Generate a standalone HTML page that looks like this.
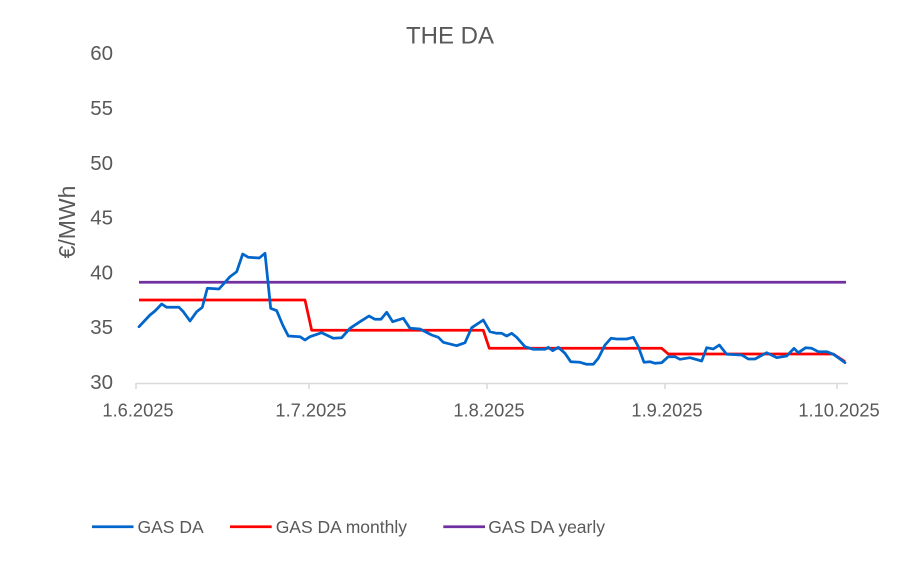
<!DOCTYPE html>
<html>
<head>
<meta charset="utf-8">
<style>
  html, body { margin: 0; padding: 0; background: #ffffff; }
  body { width: 900px; height: 573px; overflow: hidden; }
  svg { display: block; }
  text { font-family: "Liberation Sans", "DejaVu Sans", sans-serif; fill: #595959; }
</style>
</head>
<body>
<svg width="900" height="573" viewBox="0 0 900 573" xmlns="http://www.w3.org/2000/svg">
  <rect x="0" y="0" width="900" height="573" fill="#ffffff"/>

  <!-- Title -->
  <text x="450" y="43.5" font-size="24" text-anchor="middle">THE DA</text>

  <!-- Y axis title -->
  <text transform="translate(75,222) rotate(-90)" font-size="23" text-anchor="middle">€/MWh</text>

  <!-- Y tick labels -->
  <g font-size="20.5" text-anchor="end">
    <text x="113" y="60.2">60</text>
    <text x="113" y="115.2">55</text>
    <text x="113" y="169.9">50</text>
    <text x="113" y="224.7">45</text>
    <text x="113" y="279.4">40</text>
    <text x="113" y="334.2">35</text>
    <text x="113" y="389">30</text>
  </g>

  <!-- X axis -->
  <line x1="136" y1="383.5" x2="848" y2="383.5" stroke="#d9d9d9" stroke-width="1.5"/>
  <g stroke="#d9d9d9" stroke-width="1.5">
    <line x1="136" y1="383" x2="136" y2="389"/>
    <line x1="309" y1="383" x2="309" y2="389"/>
    <line x1="487" y1="383" x2="487" y2="389"/>
    <line x1="665" y1="383" x2="665" y2="389"/>
    <line x1="837" y1="383" x2="837" y2="389"/>
  </g>

  <!-- X tick labels -->
  <g font-size="18.3" text-anchor="middle">
    <text x="138" y="416.5">1.6.2025</text>
    <text x="311" y="416.5">1.7.2025</text>
    <text x="489" y="416.5">1.8.2025</text>
    <text x="667" y="416.5">1.9.2025</text>
    <text x="839" y="416.5">1.10.2025</text>
  </g>

  <!-- GAS DA yearly -->
  <line x1="139" y1="282.3" x2="846" y2="282.3" stroke="#7030a0" stroke-width="2.75"/>

  <!-- GAS DA monthly -->
  <polyline fill="none" stroke="#ff0000" stroke-width="2.75" stroke-linejoin="round"
    points="139,300 305,300 311.7,330.3 483.3,330.3 489.3,348.3 661.7,348.3 668.3,354 833.3,354 845,361.7"/>

  <!-- GAS DA -->
  <polyline fill="none" stroke="#0066cc" stroke-width="2.75" stroke-linejoin="round" stroke-linecap="round"
    points="139,326.7 150,315 155,311 161.7,304 166.7,307.3 179,307.3 183.3,311.7 190,321 196.7,311.7 202.3,307.3 207.3,288.3 219,289 230,276.7 236.7,271.7 242.7,254 248.3,257.3 259.3,258 265,253.3 270.7,308.3 276.7,310.7 282.7,325 288.3,336 300,336.7 305,340 310,336.7 321.7,332.7 333.3,338.3 341.7,337.7 350,328.3 360,321.7 369,316 375,319.3 381,319.3 386.7,312.3 392.7,321.7 403.3,318.3 410,328.3 420,329 431.7,335 438.3,337.3 443.3,342.3 456.7,345.7 465,342.7 471.7,327.7 483.3,320 490,331.7 496.7,333.3 501.7,333.3 506.7,336 511.7,333.3 516.7,337.3 525,346.7 533.3,349.3 545,349.3 548.3,347.3 552.7,350.7 558.3,347.3 565,353.3 570.7,361.7 580,362.3 586.7,364.3 593.3,364.3 598.3,358.3 605,345 611,338.3 616.7,339 626.7,339 633.3,337.3 638.3,346.7 644,362.3 650,361.7 655,363.3 661.7,362.7 668.3,356.7 675,356.7 680,359.3 690,357.7 701.7,361 706.7,347.7 713.3,349 719.3,345 726.7,354.3 741.7,355 748.3,359 755,359 766.7,352.7 776.7,357.7 786.7,356 794,348.3 798.3,352.7 805.7,347.7 811.7,348.3 818.3,351.7 826.7,351.7 833.3,354.3 840,359 845,362.7"/>

  <!-- Legend -->
  <line x1="92" y1="526.7" x2="133.5" y2="526.7" stroke="#0066cc" stroke-width="2.75"/>
  <text x="137.5" y="533" font-size="17.5">GAS DA</text>
  <line x1="230" y1="526.7" x2="271.7" y2="526.7" stroke="#ff0000" stroke-width="2.75"/>
  <text x="275.7" y="533" font-size="17.5">GAS DA monthly</text>
  <line x1="443.3" y1="526.7" x2="485" y2="526.7" stroke="#7030a0" stroke-width="2.75"/>
  <text x="488.3" y="533" font-size="17.5">GAS DA yearly</text>
</svg>
</body>
</html>
